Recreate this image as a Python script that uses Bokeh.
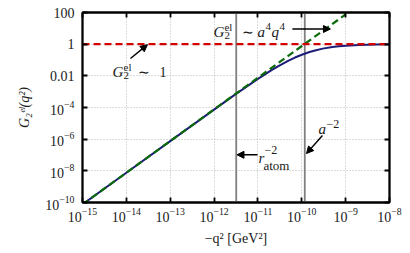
from bokeh.plotting import figure
from bokeh.models import (FixedTicker, LogAxis, LogTickFormatter, Label, Arrow,
                          NormalHead, Span)
from bokeh.embed import file_html
from bokeh.resources import INLINE

# ---------------- data ----------------
q2_curve = [1e-15, 1e-14, 1e-13, 1e-12, 3e-12, 1e-11, 2e-11, 3e-11, 5e-11, 7e-11,
            1e-10, 1.5e-10, 2e-10, 3e-10, 5e-10, 7e-10, 1e-9, 2e-9, 5e-9, 1e-8]
g2_curve = [7.6e-11, 7.6e-9, 7.5e-7, 7.4e-5, 6.5e-4, 6.4e-3, 0.022, 0.043, 0.092, 0.143,
            0.216, 0.320, 0.403, 0.523, 0.661, 0.738, 0.804, 0.894, 0.956, 0.977]
q2_quartic = [1e-15, 1e-9]
g2_quartic = [7.6e-11, 76.0]
q2_unity = [1e-15, 1e-8]
g2_unity = [1.0, 1.0]
r_atom_inv2 = 3.2e-12
a_inv2 = 1.17e-10

x_ticks = [1e-15, 1e-14, 1e-13, 1e-12, 1e-11, 1e-10, 1e-9, 1e-8]
y_ticks = [1e-10, 1e-8, 1e-6, 1e-4, 1e-2, 1, 100]
y_plain_labels = {0.01: "0.01", 1: "1", 100: "100"}

# annotation anchors (data coordinates)
ann_unity = (4.83e-15, 1.74e-2)
ann_quartic = (9.7e-13, 5.46)
ann_ratom = (1.03e-11, 6.4e-8)
ann_a = (2.4e-10, 4.7e-6)
arrows = [
    ((1.24e-14, 0.124), (3.03e-14, 0.93)),
    ((6.1e-11, 9.1), (4.5e-10, 9.1)),
    ((9.8e-12, 1.03e-7), (3.33e-12, 1.03e-7)),
    ((2.96e-10, 1.7e-6), (1.28e-10, 1.24e-7)),
]

FONT = "Liberation Serif"
TXT = "#1a1a1a"

p = figure(width=410, height=253, x_axis_type="log", y_axis_type="log",
           x_range=(1e-15, 1e-8), y_range=(1e-10, 100),
           output_backend="svg", toolbar_location=None,
           min_border_left=82, min_border_right=21, min_border_top=12,
           min_border_bottom=51)
p.background_fill_color = "white"
p.border_fill_color = "white"
p.outline_line_color = "black"
p.outline_line_width = 1.8

bottom_axis = p.below[0]
left_axis = p.left[0]

# extra axes for inward ticks on top / right
top_axis = LogAxis()
right_axis = LogAxis()
p.add_layout(top_axis, "above")
p.add_layout(right_axis, "right")

for ax in (bottom_axis, top_axis):
    ax.ticker = FixedTicker(ticks=x_ticks, minor_ticks=[])
for ax in (left_axis, right_axis):
    ax.ticker = FixedTicker(ticks=y_ticks, minor_ticks=[])

for ax in (bottom_axis, top_axis, left_axis, right_axis):
    ax.major_tick_in = 5
    ax.major_tick_out = 0
    ax.minor_tick_in = 0
    ax.minor_tick_out = 0
    ax.major_tick_line_width = 1.8
    ax.major_tick_line_color = "black"
    ax.axis_line_color = "black"
    ax.axis_line_width = 1.8
    ax.major_label_text_font = FONT
    ax.major_label_text_font_size = "14px"
    ax.major_label_text_color = TXT
    ax.axis_label_text_font = FONT
    ax.axis_label_text_color = TXT

bottom_axis.formatter = LogTickFormatter()
left_axis.formatter = LogTickFormatter()

top_axis.major_label_overrides = {t: "" for t in x_ticks}
right_axis.major_label_overrides = {t: "" for t in y_ticks}
for ax in (top_axis, right_axis):
    ax.major_label_text_font_size = "1px"
    ax.major_label_standoff = 0

left_axis.major_label_overrides = y_plain_labels
left_axis.major_label_standoff = 8
bottom_axis.major_label_standoff = 5

left_axis.axis_label = "G₂ᵉˡ(q²)"
left_axis.axis_label_text_font_style = "italic"
left_axis.axis_label_text_font_size = "14px"
left_axis.axis_label_standoff = 10
bottom_axis.axis_label = "−q² [GeV²]"
bottom_axis.axis_label_text_font_style = "normal"
bottom_axis.axis_label_text_font_size = "14px"
bottom_axis.axis_label_standoff = 6

p.grid.grid_line_color = "#b8b8b8"
p.grid.grid_line_dash = "1 2"
p.grid.grid_line_width = 1

# vertical markers
for loc in (r_atom_inv2, a_inv2):
    p.add_layout(Span(location=loc, dimension="height", line_color="#808080",
                      line_width=1.8, level="underlay"))

# curves
p.line(q2_curve, g2_curve, line_color="#1c1c78", line_width=2)
p.line(q2_quartic, g2_quartic, line_color="#0b6b0b", line_width=2.2, line_dash="7 4")
p.line(q2_unity, g2_unity, line_color="#d40000", line_width=2.2, line_dash="7 4")


def math_label(anchor, parts):
    x, y = anchor
    for txt, dx, dy, size, style in parts:
        p.add_layout(Label(x=x, y=y, text=txt, x_offset=dx, y_offset=dy,
                           text_font=FONT, text_font_size=f"{size}px",
                           text_font_style=style, text_color=TXT,
                           text_align="left", text_baseline="alphabetic"))


math_label(ann_unity, [("G", 0, 0, 15, "italic"), ("el", 11, 5, 11, "normal"),
                       ("2", 11, -3.5, 11, "normal"), ("∼", 26, 0, 14, "normal"),
                       ("1", 47, 0, 14, "normal")])
math_label(ann_quartic, [("G", 0, 0, 15, "italic"), ("el", 11, 5, 11, "normal"),
                         ("2", 11, -3.5, 11, "normal"), ("∼", 29, 0, 14, "normal"),
                         ("a", 44, 0, 15, "italic"), ("4", 52, 6, 11, "normal"),
                         ("q", 58, 0, 15, "italic"), ("4", 66, 6, 11, "normal")])
math_label(ann_ratom, [("r", 0, 0, 15, "italic"), ("−2", 6, 8, 12, "normal"),
                       ("atom", 5, -7, 13, "normal")])
math_label(ann_a, [("a", 0, 0, 15, "italic"), ("−2", 8, 5, 12, "normal")])

for (xs, ys), (xe, ye) in arrows:
    p.add_layout(Arrow(x_start=xs, y_start=ys, x_end=xe, y_end=ye,
                       line_color="black", line_width=1.4,
                       end=NormalHead(size=7, fill_color="black", line_color="black",
                                      line_width=1)))

open("out.html", "w").write(file_html(p, INLINE))
